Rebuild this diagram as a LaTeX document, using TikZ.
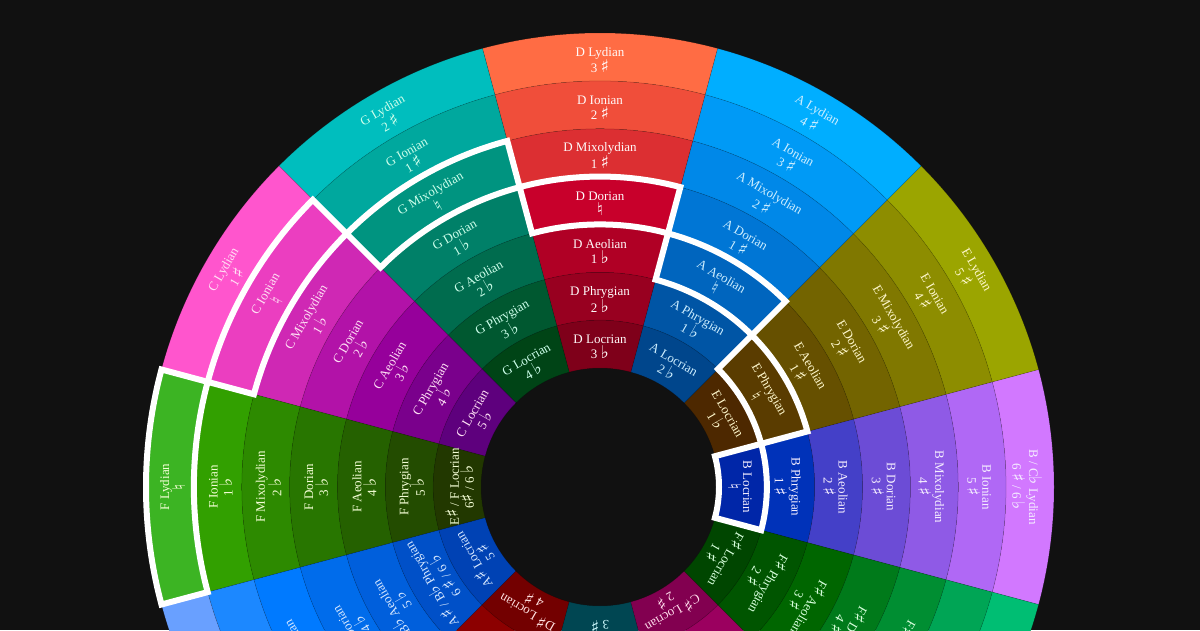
\documentclass[tikz,border=0pt]{standalone}
\usepackage{fontspec}
\setmainfont{Liberation Serif}
\newfontfamily\musicfont[Scale=1.35]{DejaVu Sans}
\usepackage{xcolor}
\usepackage{tikz}

\newcommand{\sh}{{\musicfont ♯}}
\newcommand{\fl}{{\musicfont ♭}}
\newcommand{\na}{{\musicfont ♮}}

\definecolor{bgdark}{RGB}{17,17,17}

% one colour per ring: 1 = Locrian (inside) ... 7 = Lydian (outside)
\newcommand{\ringcolors}[8]{%
  \definecolor{c#11}{RGB}{#2}\definecolor{c#12}{RGB}{#3}%
  \definecolor{c#13}{RGB}{#4}\definecolor{c#14}{RGB}{#5}%
  \definecolor{c#15}{RGB}{#6}\definecolor{c#16}{RGB}{#7}%
  \definecolor{c#17}{RGB}{#8}}
\ringcolors{B}{0,38,168}{0,50,185}{68,64,200}{108,76,214}{143,90,230}{176,104,245}{210,120,255}
\ringcolors{E}{77,40,0}{90,60,0}{102,80,0}{115,100,0}{128,120,0}{141,141,0}{155,165,0}
\ringcolors{A}{0,70,140}{0,85,165}{0,101,190}{0,118,213}{0,136,232}{0,154,246}{0,174,255}
\ringcolors{D}{127,0,26}{152,0,32}{176,0,37}{200,0,43}{220,47,50}{240,78,58}{255,108,68}
\ringcolors{G}{0,68,22}{0,88,48}{0,108,78}{0,128,104}{0,148,128}{0,168,158}{0,190,190}
\ringcolors{C}{94,0,125}{122,0,140}{150,0,155}{178,18,168}{207,40,180}{235,62,192}{255,85,205}
\ringcolors{F}{34,56,0}{35,76,0}{37,97,0}{40,118,0}{45,138,0}{50,160,0}{60,180,35}
\ringcolors{Bb}{0,66,180}{0,80,200}{0,95,220}{0,108,235}{0,122,255}{28,136,255}{105,160,255}
\ringcolors{Eb}{115,0,0}{140,0,0}{165,0,0}{190,20,20}{210,40,40}{230,60,60}{250,85,85}
\ringcolors{Ab}{0,70,82}{0,90,100}{0,110,120}{0,130,140}{0,150,160}{0,170,180}{0,190,200}
\ringcolors{Db}{130,0,80}{155,0,95}{180,0,110}{200,20,125}{220,40,140}{235,60,155}{250,80,170}
\ringcolors{Fs}{0,70,0}{0,85,0}{0,102,0}{0,122,26}{0,142,50}{0,165,85}{0,190,115}

% label colours
\definecolor{tD}{RGB}{255,250,250}
\definecolor{tA}{RGB}{205,238,255}
\definecolor{tE}{RGB}{255,248,205}
\definecolor{tB}{RGB}{245,238,255}
\definecolor{tG}{RGB}{205,255,235}
\definecolor{tC}{RGB}{255,225,245}
\definecolor{tF}{RGB}{245,255,215}
\definecolor{tBb}{RGB}{215,232,255}
\definecolor{tEb}{RGB}{255,225,225}
\definecolor{tAb}{RGB}{205,250,255}
\definecolor{tDb}{RGB}{255,220,235}
\definecolor{tFs}{RGB}{215,255,220}

% cell of the wheel: angle, ring, options
\newcommand{\cellpath}[3]{%
  \pgfmathsetmacro\rin{119+(#2-1)*47.857}%
  \pgfmathsetmacro\rout{\rin+47.857}%
  \path[#3] (#1-15:\rin pt) arc[start angle=#1-15, end angle=#1+15, radius=\rin pt]
    -- (#1+15:\rout pt) arc[start angle=#1+15, end angle=#1-15, radius=\rout pt] -- cycle;}

% label of a cell: angle, ring, colour, text
\newcommand{\modelabel}[4]{%
  \pgfmathsetmacro\rmid{116+(#2-0.5)*47.857}%
  \node[modetext, text=#3, rotate=#1-90] (m#1r#2) at (#1:\rmid pt) {#4};}

\begin{document}
\begin{tikzpicture}[x=1pt, y=1pt,
    modetext/.style={font=\fontsize{13}{15}\selectfont, align=center, inner sep=0pt},
    cell/.style={draw=black, draw opacity=0.2, line width=0.5pt},
    hilite/.style={draw=white, line width=6pt}]
    % Background
    \fill[bgdark] (0,0) rectangle (1200,630);
    \useasboundingbox (0,0) rectangle (1200,630);
    \clip (0,0) rectangle (1200,630);

    \begin{scope}[shift={(600,143)}]
    % Rings
    \foreach \k/\a in {B/0, E/30, A/60, D/90, G/120, C/150, F/180, Bb/210, Eb/240, Ab/270, Db/300, Fs/330}
        \foreach \i in {1,...,7}
            {\cellpath{\a}{\i}{cell, fill=c\k\i}}

    % B
    \modelabel{0}{1}{tB}{B Locrian\\\na}
    \modelabel{0}{2}{tB}{B Phrygian\\1 \sh}
    \modelabel{0}{3}{tB}{B Aeolian\\2 \sh}
    \modelabel{0}{4}{tB}{B Dorian\\3 \sh}
    \modelabel{0}{5}{tB}{B Mixolydian\\4 \sh}
    \modelabel{0}{6}{tB}{B Ionian\\5 \sh}
    \modelabel{0}{7}{tB}{B / C\fl{} Lydian\\6 \sh{} / 6 \fl}
    % E
    \modelabel{30}{1}{tE}{E Locrian\\1 \fl}
    \modelabel{30}{2}{tE}{E Phrygian\\\na}
    \modelabel{30}{3}{tE}{E Aeolian\\1 \sh}
    \modelabel{30}{4}{tE}{E Dorian\\2 \sh}
    \modelabel{30}{5}{tE}{E Mixolydian\\3 \sh}
    \modelabel{30}{6}{tE}{E Ionian\\4 \sh}
    \modelabel{30}{7}{tE}{E Lydian\\5 \sh}
    % A
    \modelabel{60}{1}{tA}{A Locrian\\2 \fl}
    \modelabel{60}{2}{tA}{A Phrygian\\1 \fl}
    \modelabel{60}{3}{tA}{A Aeolian\\\na}
    \modelabel{60}{4}{tA}{A Dorian\\1 \sh}
    \modelabel{60}{5}{tA}{A Mixolydian\\2 \sh}
    \modelabel{60}{6}{tA}{A Ionian\\3 \sh}
    \modelabel{60}{7}{tA}{A Lydian\\4 \sh}
    % D
    \modelabel{90}{1}{tD}{D Locrian\\3 \fl}
    \modelabel{90}{2}{tD}{D Phrygian\\2 \fl}
    \modelabel{90}{3}{tD}{D Aeolian\\1 \fl}
    \modelabel{90}{4}{tD}{D Dorian\\\na}
    \modelabel{90}{5}{tD}{D Mixolydian\\1 \sh}
    \modelabel{90}{6}{tD}{D Ionian\\2 \sh}
    \modelabel{90}{7}{tD}{D Lydian\\3 \sh}
    % G
    \modelabel{120}{1}{tG}{G Locrian\\4 \fl}
    \modelabel{120}{2}{tG}{G Phrygian\\3 \fl}
    \modelabel{120}{3}{tG}{G Aeolian\\2 \fl}
    \modelabel{120}{4}{tG}{G Dorian\\1 \fl}
    \modelabel{120}{5}{tG}{G Mixolydian\\\na}
    \modelabel{120}{6}{tG}{G Ionian\\1 \sh}
    \modelabel{120}{7}{tG}{G Lydian\\2 \sh}
    % C
    \modelabel{150}{1}{tC}{C Locrian\\5 \fl}
    \modelabel{150}{2}{tC}{C Phrygian\\4 \fl}
    \modelabel{150}{3}{tC}{C Aeolian\\3 \fl}
    \modelabel{150}{4}{tC}{C Dorian\\2 \fl}
    \modelabel{150}{5}{tC}{C Mixolydian\\1 \fl}
    \modelabel{150}{6}{tC}{C Ionian\\\na}
    \modelabel{150}{7}{tC}{C Lydian\\1 \sh}
    % F
    \modelabel{180}{1}{tF}{E\sh{} / F Locrian\\6\sh{} / 6 \fl}
    \modelabel{180}{2}{tF}{F Phrygian\\5 \fl}
    \modelabel{180}{3}{tF}{F Aeolian\\4 \fl}
    \modelabel{180}{4}{tF}{F Dorian\\3 \fl}
    \modelabel{180}{5}{tF}{F Mixolydian\\2 \fl}
    \modelabel{180}{6}{tF}{F Ionian\\1 \fl}
    \modelabel{180}{7}{tF}{F Lydian\\\na}
    % Bb
    \modelabel{210}{1}{tBb}{A\sh{} Locrian\\5 \sh}
    \modelabel{210}{2}{tBb}{A\sh{} / B\fl{} Phrygian\\6 \sh{} / 6 \fl}
    \modelabel{210}{3}{tBb}{B\fl{} Aeolian\\5 \fl}
    \modelabel{210}{4}{tBb}{B\fl{} Dorian\\4 \fl}
    \modelabel{210}{5}{tBb}{B\fl{} Mixolydian\\3 \fl}
    % Eb, Ab, Db
    \modelabel{240}{1}{tEb}{D\sh{} Locrian\\4 \sh}
    \node[modetext, text=tAb, rotate=180] (m270r1) at (270:147pt) {G\sh{} Locrian\\3 \sh};
    \modelabel{300}{1}{tDb}{C\sh{} Locrian\\2 \sh}
    % F#
    \modelabel{330}{1}{tFs}{F\sh{} Locrian\\1 \sh}
    \modelabel{330}{2}{tFs}{F\sh{} Phrygian\\2 \sh}
    \modelabel{330}{3}{tFs}{F\sh{} Aeolian\\3 \sh}
    \modelabel{330}{4}{tFs}{F\sh{} Dorian\\4 \sh}
    \modelabel{330}{5}{tFs}{F\sh{} Mixolydian\\5 \sh}

    % Modes of C major
    \cellpath{180}{7}{hilite}
    \cellpath{150}{6}{hilite}
    \cellpath{120}{5}{hilite}
    \cellpath{90}{4}{hilite}
    \cellpath{60}{3}{hilite}
    \cellpath{30}{2}{hilite}
    \cellpath{0}{1}{hilite}
    \end{scope}
\end{tikzpicture}
\end{document}
